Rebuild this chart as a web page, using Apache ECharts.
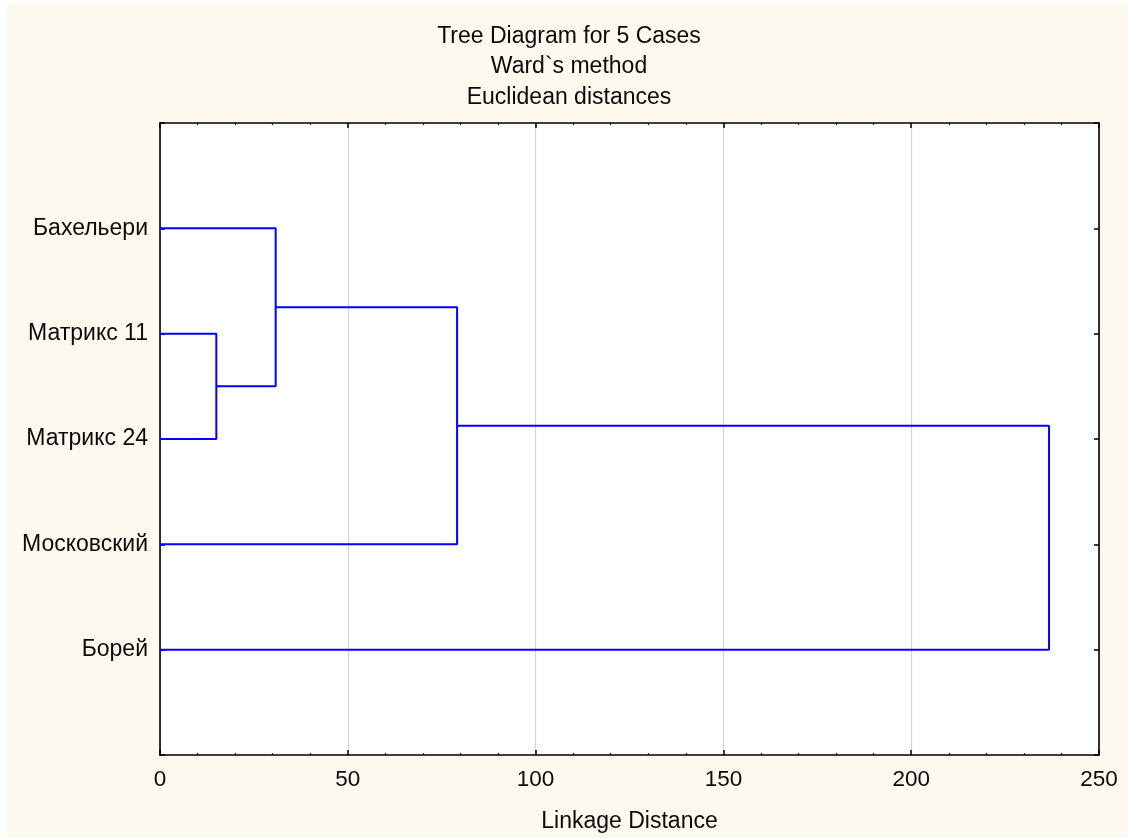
<!DOCTYPE html>
<html>
<head>
<meta charset="utf-8">
<script src="https://cdn.jsdelivr.net/npm/echarts@6/dist/echarts.min.js"></script>
<style>
  html, body { margin: 0; padding: 0; background: #ffffff; }
  #wrap { position: relative; width: 1128px; height: 838px; background: #ffffff; }
  #cream { position: absolute; left: 7px; top: 4px; right: 0; bottom: 0; background: #fef9ee; }
  #chart { position: absolute; left: 0; top: 0; width: 1128px; height: 838px; }
</style>
</head>
<body>
<div id="wrap"><div id="cream"></div><div id="chart"></div></div>
<script>
// ---- Data ----
const leaves = ['Бахельери', 'Матрикс 11', 'Матрикс 24', 'Московский', 'Борей'];
// merge steps: cluster ids 0..4 are leaves, 5.. are merge results in order
const mergeLeft = [1, 0, 6, 7];
const mergeRight = [2, 5, 3, 4];
const mergeDistance = [15.0, 30.8, 79.1, 236.7];
const xTicks = [0, 50, 100, 150, 200, 250];
const titleLines = ['Tree Diagram for 5 Cases', 'Ward`s method', 'Euclidean distances'];
const xAxisTitle = 'Linkage Distance';

// ---- Build dendrogram paths in data coordinates ----
const nodeX = leaves.map(() => 0);
const nodeY = leaves.map((_, i) => i + 1);
const series = [];
for (let k = 0; k < mergeDistance.length; k++) {
  const a = mergeLeft[k], b = mergeRight[k], d = mergeDistance[k];
  series.push({
    type: 'line',
    xAxisIndex: 0, yAxisIndex: 0,
    symbol: 'none',
    silent: true,
    animation: false,
    lineStyle: { color: '#0000ff', width: 2 },
    data: [[nodeX[a], nodeY[a]], [d, nodeY[a]], [d, nodeY[b]], [nodeX[b], nodeY[b]]]
  });
  nodeX.push(d);
  nodeY.push((nodeY[a] + nodeY[b]) / 2);
}

const FONT = '"Liberation Sans", Arial, sans-serif';
const TXT = '#0a0a0a';
const axisLine = { show: true, onZero: false, lineStyle: { color: '#000', width: 1.6 } };

const chart = echarts.init(document.getElementById('chart'), null, { renderer: 'canvas' });
chart.setOption({
  backgroundColor: 'transparent',
  animation: false,
  title: {
    text: titleLines.join('\n'),
    left: 569,
    textAlign: 'center',
    top: 21,
    padding: 0,
    textStyle: { fontFamily: FONT, fontSize: 23, fontWeight: 'normal', color: TXT, lineHeight: 30.5 }
  },
  grid: { left: 160, right: 29, top: 123, bottom: 83, show: true, backgroundColor: '#ffffff', borderWidth: 0 },
  xAxis: [
    {
      type: 'value', position: 'bottom', min: xTicks[0], max: xTicks[xTicks.length - 1], interval: 50,
      axisLine,
      axisTick: { show: true, inside: true, length: 5, lineStyle: { color: '#000', width: 1.5 } },
      minorTick: { show: true, splitNumber: 5, length: 2, lineStyle: { color: '#000', width: 1.2 } },
      splitLine: { show: true, lineStyle: { color: '#d4d4d4', width: 1.2 } },
      axisLabel: { margin: 13, fontFamily: FONT, fontSize: 22.5, color: TXT,
        formatter: v => xTicks.includes(v) ? String(v) : '' },
      name: xAxisTitle, nameLocation: 'middle', nameGap: 55,
      nameTextStyle: { fontFamily: FONT, fontSize: 23, color: TXT }
    },
    {
      type: 'value', position: 'top', min: 0, max: 250, interval: 50,
      axisLine,
      axisTick: { show: true, inside: true, length: 5, lineStyle: { color: '#000', width: 1.5 } },
      minorTick: { show: true, splitNumber: 5, length: 2, lineStyle: { color: '#000', width: 1.2 } },
      splitLine: { show: false },
      axisLabel: { show: false }
    }
  ],
  yAxis: [
    {
      type: 'value', position: 'left', min: 0, max: leaves.length + 1, interval: 1, inverse: true,
      axisLine,
      axisTick: { show: true, inside: true, length: 5, lineStyle: { color: '#000', width: 1.5 } },
      splitLine: { show: false },
      axisLabel: { margin: 12, fontFamily: FONT, fontSize: 23, color: TXT,
        formatter: v => (v >= 1 && v <= leaves.length) ? leaves[v - 1] : '' }
    },
    {
      type: 'value', position: 'right', min: 0, max: leaves.length + 1, interval: 1, inverse: true,
      axisLine,
      axisTick: { show: true, inside: true, length: 5, lineStyle: { color: '#000', width: 1.5 } },
      splitLine: { show: false },
      axisLabel: { show: false }
    }
  ],
  series
});
</script>
</body>
</html>
